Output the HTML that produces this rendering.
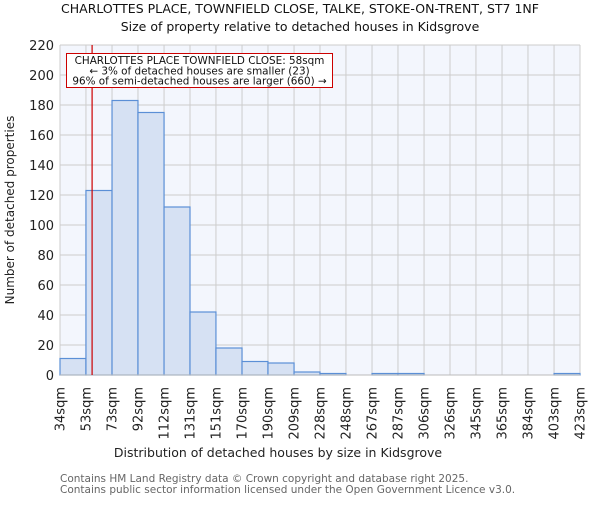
<!DOCTYPE html>
<html><head><meta charset="utf-8"><style>body{margin:0;background:#fff}svg{font-family:"DejaVu Sans","Liberation Sans",sans-serif}</style></head>
<body>
<svg id="c" width="600" height="500" xmlns="http://www.w3.org/2000/svg">
<text x="300" y="13" font-size="12.5" text-anchor="middle" fill="#111">CHARLOTTES PLACE, TOWNFIELD CLOSE, TALKE, STOKE-ON-TRENT, ST7 1NF</text>
<text x="300" y="31" font-size="12.5" text-anchor="middle" fill="#111">Size of property relative to detached houses in Kidsgrove</text>
<rect x="60" y="45" width="520" height="330" fill="#f3f6fd"/>
<g id="grid"></g><g id="bars"></g><g id="axes"></g>
<text x="278" y="457" font-size="12.5" text-anchor="middle" fill="#222">Distribution of detached houses by size in Kidsgrove</text>
<text transform="translate(14,210) rotate(-90)" font-size="12" text-anchor="middle" fill="#222">Number of detached properties</text>
<text x="60" y="482" font-size="10.5" fill="#666">Contains HM Land Registry data © Crown copyright and database right 2025.</text>
<text x="60" y="493" font-size="10.5" fill="#666">Contains public sector information licensed under the Open Government Licence v3.0.</text>
</svg>
<script>
const binLabels=["34sqm","53sqm","73sqm","92sqm","112sqm","131sqm","151sqm","170sqm","190sqm","209sqm","228sqm","248sqm","267sqm","287sqm","306sqm","326sqm","345sqm","365sqm","384sqm","403sqm","423sqm"];
const binEdges=[34,53.4,72.9,92.3,111.8,131.2,150.6,170.1,189.5,209,228.4,247.8,267.3,286.7,306.2,325.6,345,364.5,383.9,403.4,422.8];
const counts=[11,123,183,175,112,42,18,9,8,2,1,0,1,1,0,0,0,0,0,1];
const yTicks=[0,20,40,60,80,100,120,140,160,180,200,220];
const markerSize=58;
const ns="http://www.w3.org/2000/svg";
const X0=60,X1=580,Y0=375,Y1=45;
const xs=v=>X0+(v-binEdges[0])/(binEdges[binEdges.length-1]-binEdges[0])*(X1-X0);
const ys=v=>Y0-v/220*(Y0-Y1);
function mk(t,a,p){const e=document.createElementNS(ns,t);for(const k in a)e.setAttribute(k,a[k]);p.appendChild(e);return e;}
const grid=document.getElementById('grid'),bars=document.getElementById('bars'),axes=document.getElementById('axes');
yTicks.forEach(v=>{
 const l=mk('line',{x1:X0,x2:X1,y1:ys(v),y2:ys(v),stroke:'#cccccc','stroke-width':1},grid);
 
 
 const t=mk('text',{x:X0-6,y:ys(v)+5,'font-size':13,'text-anchor':'end',fill:'#222'},axes);
 t.textContent=v;
 
 
});
binEdges.forEach((v,i)=>{
 const l=mk('line',{x1:xs(v),x2:xs(v),y1:Y1,y2:Y0,stroke:'#cccccc','stroke-width':1},grid);
 
 
 const x=xs(v)+4.5;
 const t=mk('text',{transform:`translate(${x},${Y0+12}) rotate(-90)`,'font-size':13,'text-anchor':'end',fill:'#222'},axes);
 t.textContent=binLabels[i];
 
 
});
counts.forEach((c,i)=>{
 if(c<=0)return;
 const r=mk('rect',{x:xs(binEdges[i]),y:ys(c),width:xs(binEdges[i+1])-xs(binEdges[i]),height:Y0-ys(c),fill:'#d6e1f3',stroke:'#5b8fd6','stroke-width':1.2},bars);
 
 
});
const ax=mk('line',{x1:X0,x2:X1,y1:Y0,y2:Y0,stroke:'#bbb','stroke-width':1},axes);


const mx=xs(markerSize);
const ml=mk('line',{x1:mx,x2:mx,y1:Y1,y2:Y0,stroke:'#cc0000','stroke-width':1.2},axes);


const g=mk('g',{},axes);


mk('rect',{x:66.5,y:53.5,width:266,height:34,fill:'#fff',stroke:'#cc0000','stroke-width':1},g);
[["CHARLOTTES PLACE TOWNFIELD CLOSE: 58sqm",64],["← 3% of detached houses are smaller (23)",74.5],["96% of semi-detached houses are larger (660) →",84.5]].forEach(([s,y])=>{
 const t=mk('text',{x:199.5,y:y,'font-size':10.4,'text-anchor':'middle',fill:'#111'},g);
 t.textContent=s;
 
 
});
</script>
</body></html>
